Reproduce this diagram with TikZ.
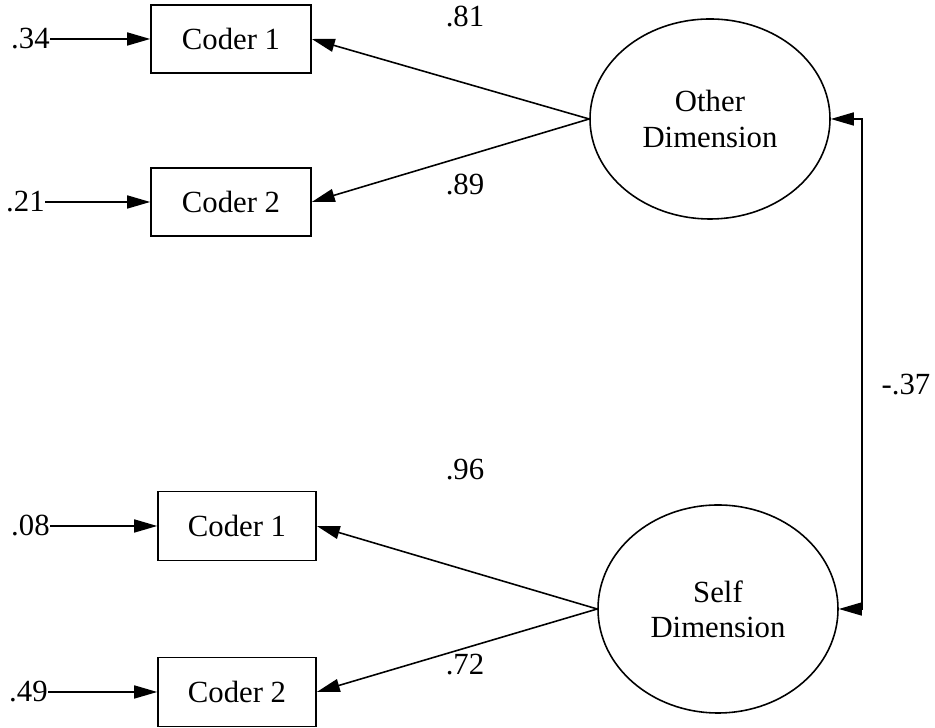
\documentclass[tikz,border=0pt]{standalone}
\usepackage{fontspec}
\setmainfont{Liberation Serif}
\usetikzlibrary{arrows.meta,shapes.geometric}

\begin{document}
\begin{tikzpicture}[x=1cm,y=1cm,
    every node/.style={font=\fontsize{17.5}{20}\selectfont},
    coder/.style={draw,line width=0.9pt,minimum width=3.2cm,minimum height=1.36cm},
    factor/.style={draw,ellipse,line width=0.9pt,minimum width=4.8cm,
      minimum height=4cm,inner sep=0pt,align=center},
    resid/.style={inner sep=0pt,anchor=east},
    link/.style={line width=0.9pt,-{Triangle[length=0.46cm,width=0.26cm]}},
    dlink/.style={line width=0.9pt,
      {Triangle[length=0.46cm,width=0.26cm]}-{Triangle[length=0.46cm,width=0.26cm]}}]
    \useasboundingbox (0,0) rectangle (18.7,14.56);

    % other dimension
    \node[coder] (oc1) at (4.62,13.78) {Coder 1};
    \node[coder] (oc2) at (4.62,10.52) {Coder 2};
    \node[factor] (other) at (14.2,12.18) {Other\\Dimension};

    % self dimension
    \node[coder,minimum width=3.16cm,minimum height=1.38cm] (sc1) at (4.74,4.04) {Coder 1};
    \node[coder,minimum width=3.16cm,minimum height=1.38cm] (sc2) at (4.74,0.72) {Coder 2};
    \node[factor,minimum height=4.16cm] (self) at (14.36,2.38) {Self\\Dimension};

    % residuals
    \node[resid] (r1) at (1.0,13.78) {.34};
    \node[resid] (r2) at (0.9,10.52) {.21};
    \node[resid] (r3) at (1.0,4.04) {.08};
    \node[resid] (r4) at (0.96,0.72) {.49};
    \draw[link] (r1) -- (oc1);
    \draw[link] (r2) -- (oc2);
    \draw[link] (r3) -- (sc1);
    \draw[link] (r4) -- (sc2);

    % loadings
    \draw[link] (other.west) -- (oc1.east);
    \draw[link] (other.west) -- (oc2.east);
    \draw[link] (self.west) -- (sc1.east);
    \draw[link] (self.west) -- (sc2.east);
    \node (l1) at (9.3,14.22) {.81};
    \node (l2) at (9.3,10.86) {.89};
    \node (l3) at (9.3,5.16) {.96};
    \node (l4) at (9.3,1.26) {.72};

    % correlation
    \coordinate (rail) at (17.24,7);
    \draw[dlink] (other.east) -- (other.east -| rail) -- (self.east -| rail) -- (self.east);
    \node (corr) at (18.12,6.86) {-.37};
  \end{tikzpicture}
\end{document}
